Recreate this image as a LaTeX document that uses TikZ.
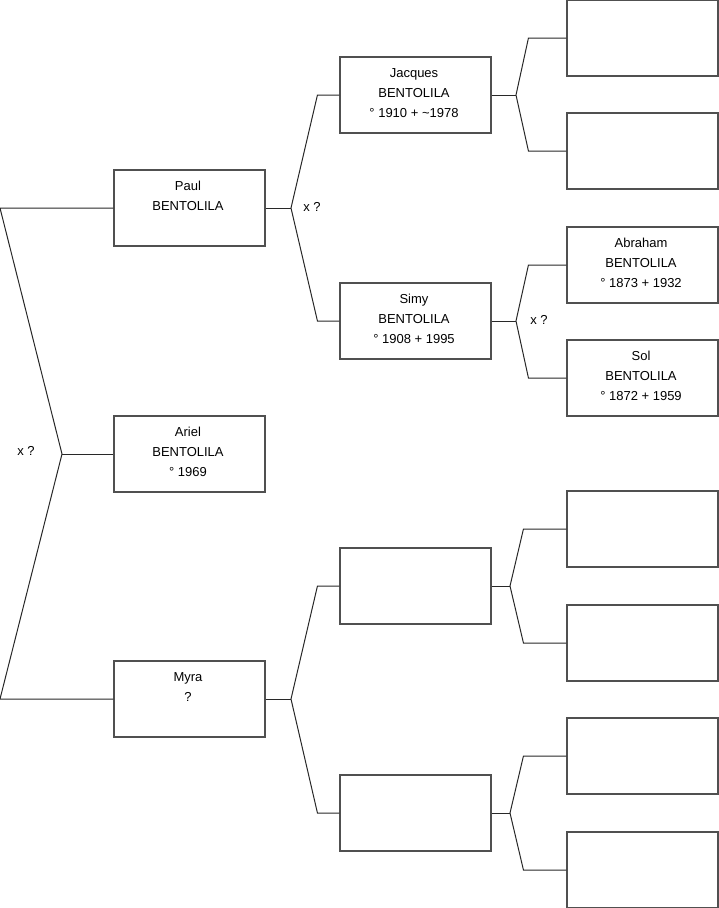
\documentclass[tikz,border=0pt]{standalone}
\usepackage{fontspec}
\setmainfont{Liberation Sans}
\usetikzlibrary{positioning, calc}
\definecolor{boxgray}{RGB}{80, 80, 80}
\definecolor{linegray}{RGB}{40, 40, 40}
\tikzset{
  link/.style={draw=linegray, line width=1pt},
  txt/.style={font=\fontsize{13}{20}\selectfont, align=center}
}

\begin{document}
\begin{tikzpicture}[
    x=1pt, y=-1pt,
    person/.style={rectangle, draw=boxgray, line width=1.1pt, minimum width=151pt, minimum height=76pt, inner sep=0pt},
    inside/.style={txt, anchor=north, inner sep=0pt, yshift=-11.5pt, xshift=-1.5pt},
    xmark/.style={txt, inner sep=0pt}
]
    \useasboundingbox (0,0) rectangle (719,908);

    % Generation 1
    \node[person, label={[inside]north:Paul\\BENTOLILA}] (paul) at (189.5,208) {};
    \node[person, label={[inside]north:Ariel\\BENTOLILA\\° 1969}] (ariel) at (189.5,454) {};
    \node[person, label={[inside]north:Myra\\?}] (myra) at (189.5,699) {};

    % Generation 2
    \node[person, label={[inside]north:Jacques\\BENTOLILA\\° 1910 + \textasciitilde1978}] (jacques) at (415.5,95) {};
    \node[person, label={[inside]north:Simy\\BENTOLILA\\° 1908 + 1995}] (simy) at (415.5,321) {};
    \node[person] (mfather) at (415.5,586) {};
    \node[person] (mmother) at (415.5,813) {};

    % Generation 3
    \node[person] (jfather) at (642.5,38) {};
    \node[person] (jmother) at (642.5,151) {};
    \node[person, label={[inside]north:Abraham\\BENTOLILA\\° 1873 + 1932}] (abraham) at (642.5,265) {};
    \node[person, label={[inside]north:Sol\\BENTOLILA\\° 1872 + 1959}] (sol) at (642.5,378) {};
    \node[person] (ffather) at (642.5,529) {};
    \node[person] (fmother) at (642.5,643) {};
    \node[person] (gfather) at (642.5,756) {};
    \node[person] (gmother) at (642.5,870) {};

    % Forks
    \coordinate (topend) at (0,208);
    \coordinate (botend) at (0,699);
    \coordinate (fk0) at (62,454);
    \coordinate (fk1) at (291,208);
    \coordinate (fk2) at (291,699);
    \coordinate (fk3) at (516,95);
    \coordinate (fk4) at (516,321);
    \coordinate (fk5) at (510,586);
    \coordinate (fk6) at (510,813);

    % Links
    \draw[link] (paul.west) -- (topend) -- (fk0) -- (botend) -- (myra.west);
    \draw[link] (fk0) -- (ariel.west);

    \draw[link] (paul.east) -- (fk1);
    \draw[link] (jacques.west) -- ++(-22,0) -- (fk1) -- ($(simy.west)+(-22,0)$) -- (simy.west);
    \draw[link] (myra.east) -- (fk2);
    \draw[link] (mfather.west) -- ++(-22,0) -- (fk2) -- ($(mmother.west)+(-22,0)$) -- (mmother.west);

    \draw[link] (jacques.east) -- (fk3);
    \draw[link] (jfather.west) -- ++(-38,0) -- (fk3) -- ($(jmother.west)+(-38,0)$) -- (jmother.west);
    \draw[link] (simy.east) -- (fk4);
    \draw[link] (abraham.west) -- ++(-38,0) -- (fk4) -- ($(sol.west)+(-38,0)$) -- (sol.west);
    \draw[link] (mfather.east) -- (fk5);
    \draw[link] (ffather.west) -- ++(-43,0) -- (fk5) -- ($(fmother.west)+(-43,0)$) -- (fmother.west);
    \draw[link] (mmother.east) -- (fk6);
    \draw[link] (gfather.west) -- ++(-43,0) -- (fk6) -- ($(gmother.west)+(-43,0)$) -- (gmother.west);

    % Marriage marks
    \node[xmark] (m0) at (26,451) {x ?};
    \node[xmark] (m1) at (312,207) {x ?};
    \node[xmark] (m2) at (539,320) {x ?};
\end{tikzpicture}
\end{document}
